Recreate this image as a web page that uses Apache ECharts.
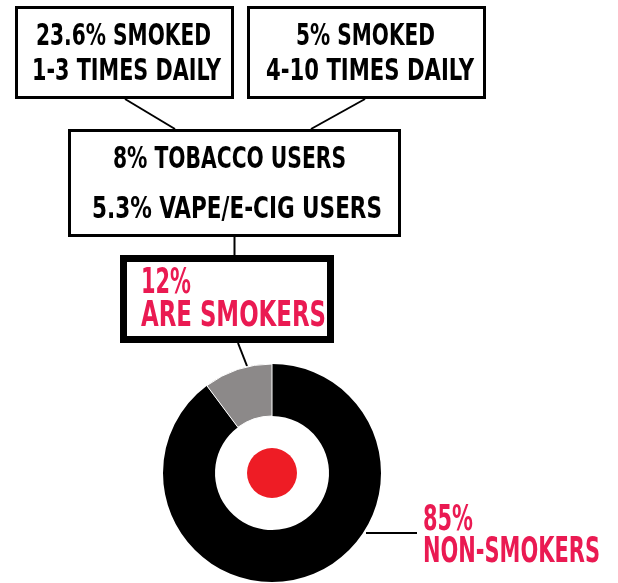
<!DOCTYPE html>
<html>
<head>
<meta charset="utf-8">
<script src="https://cdn.jsdelivr.net/npm/echarts@6/dist/echarts.min.js"></script>
<style>
html,body{margin:0;padding:0;background:#fff;}
#main{width:618px;height:583px;}
</style>
</head>
<body>
<div id="main"></div>
<script>
// 数据
var sliceNames = ['Non-smokers', 'Smokers'];
var sliceValues = [89.8, 10.2];   // 读图得到的扇区比例
var sliceColors = ['#000000', '#8c8989'];

var topLeftText = ['23.6% SMOKED', '1-3 TIMES DAILY'];
var topRightText = ['5% SMOKED', '4-10 TIMES DAILY'];
var middleText = ['8% TOBACCO USERS', '5.3% VAPE/E-CIG USERS'];
var smokersText = ['12%', 'ARE SMOKERS'];
var nonSmokersText = ['85%', 'NON-SMOKERS'];

var font = "'DejaVu Sans Condensed', 'DejaVu Sans', sans-serif";
var red = '#ea1a52';

// 用canvas量文字宽度，再横向压缩到参考图的宽度
var ctx = document.createElement('canvas').getContext('2d');
function txt(left, y, w, s, size, color) {
	var f = 'bold ' + size + 'px ' + font;
	ctx.font = f;
	var sx = w / ctx.measureText(s).width;
	return {
		type: 'text', x: left, y: y, scaleX: sx,
		style: {
			text: s, fill: color || '#000', font: f,
			textAlign: 'left', textVerticalAlign: 'middle'
		}
	};
}
function box(x, y, w, h, lw) {
	return {type: 'rect', shape: {x: x, y: y, width: w, height: h}, style: {fill: 'none', stroke: '#000', lineWidth: lw}};
}
function line(x1, y1, x2, y2, lw) {
	return {type: 'line', shape: {x1: x1, y1: y1, x2: x2, y2: y2}, style: {stroke: '#000', lineWidth: lw}};
}

var myChart = echarts.init(document.getElementById('main'));

var pieData = sliceNames.map(function (n, i) {
	return {
		name: n, value: sliceValues[i],
		itemStyle: {color: sliceColors[i], borderColor: '#fff', borderWidth: i == 1 ? 1 : 0}
	};
});

var option = {
	animation: false,
	series: [
		{
			type: 'pie', radius: [57, 109], center: [272, 473],
			startAngle: 90, clockwise: true,
			label: {show: false}, labelLine: {show: false},
			emphasis: {disabled: true},
			data: pieData
		},
		{
			type: 'pie', radius: [0, 25], center: [272, 473],
			label: {show: false}, labelLine: {show: false}, silent: true,
			data: [{value: 1, itemStyle: {color: '#ee1c25'}}]
		}
	],
	graphic: [
		box(16.5, 7.5, 216, 90, 3),
		box(248.5, 7.5, 236, 90, 3),
		box(69.5, 130.5, 330, 105, 3),
		box(123.5, 258.5, 207, 81, 7),
		line(125, 99, 175, 129, 2),
		line(365, 99, 311, 129, 2),
		line(234.5, 237, 234.5, 255, 2),
		line(238, 343, 247, 366, 2),
		line(366, 533, 417, 533, 2),
		txt(36, 37, 175, topLeftText[0], 30),
		txt(32, 72, 189, topLeftText[1], 30),
		txt(296, 37, 139, topRightText[0], 30),
		txt(266, 72, 208, topRightText[1], 30),
		txt(113, 160, 233, middleText[0], 30),
		txt(92, 210, 290, middleText[1], 30),
		txt(141, 284, 50, smokersText[0], 36, red),
		txt(141, 317, 185, smokersText[1], 36, red),
		txt(423, 521, 50, nonSmokersText[0], 35, red),
		txt(423, 553, 177, nonSmokersText[1], 35, red)
	]
};
myChart.setOption(option);
</script>
</body>
</html>
